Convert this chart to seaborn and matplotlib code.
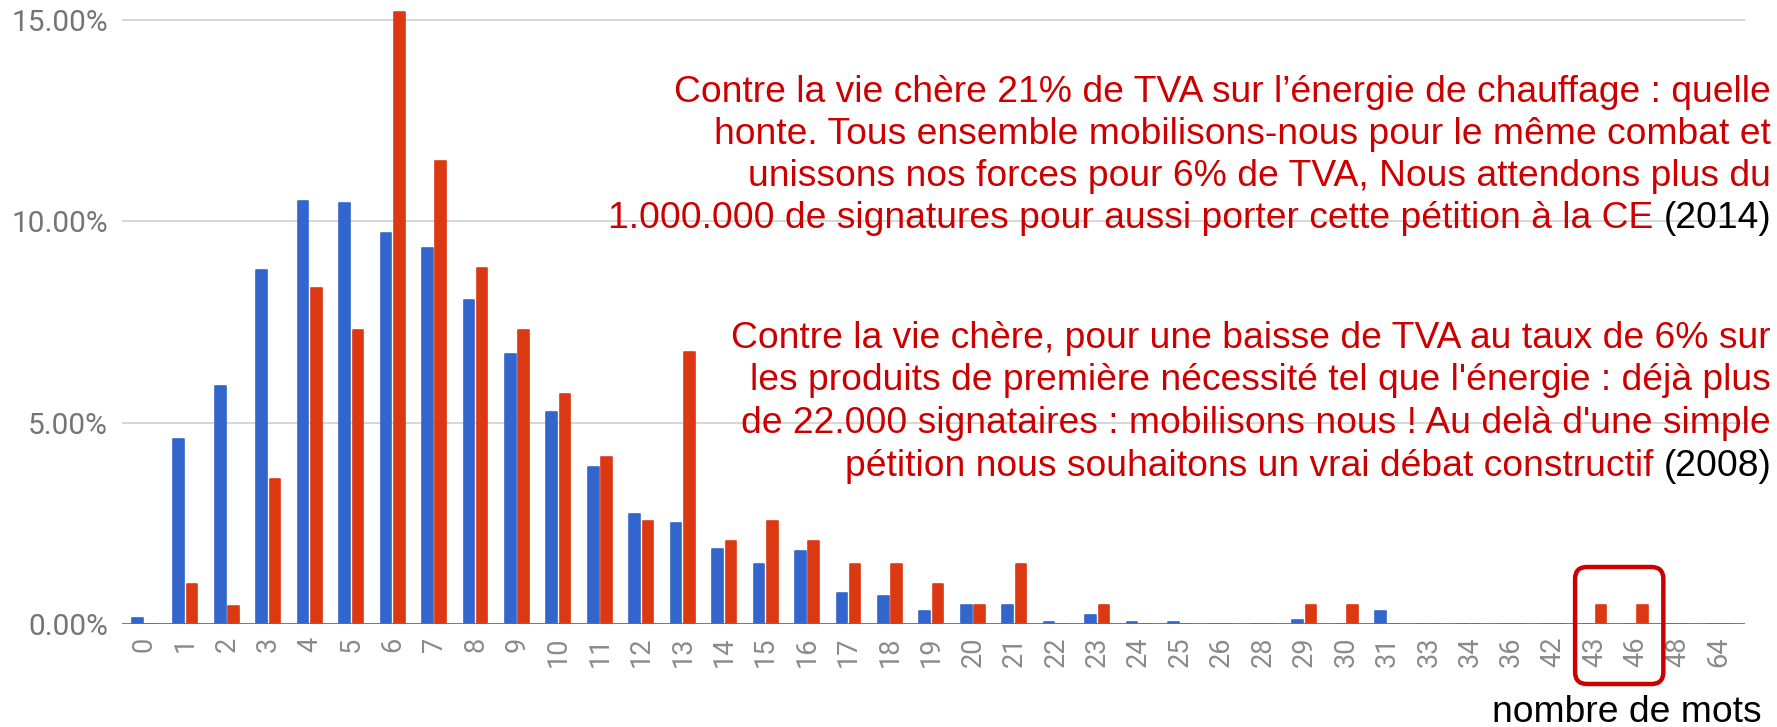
import numpy as np
import pandas as pd
import matplotlib
matplotlib.use("Agg")
import matplotlib.pyplot as plt
from matplotlib.patches import FancyBboxPatch
import seaborn as sns

# number of words per title (x categories)
mots = ["0", "1", "2", "3", "4", "5", "6", "7", "8", "9", "10", "11", "12", "13",
        "14", "15", "16", "17", "18", "19", "20", "21", "22", "23", "24", "25", "26",
        "28", "29", "30", "31", "33", "34", "36", "42", "43", "46", "48", "64"]

# share of petitions (%) - blue series
pct_bleu = [0.15, 4.6, 5.9, 8.8, 10.5, 10.45, 9.7, 9.35, 8.05, 6.7, 5.27, 3.9, 2.73,
            2.5, 1.87, 1.5, 1.82, 0.78, 0.7, 0.32, 0.46, 0.46, 0.06, 0.23, 0.06, 0.06,
            0.0, 0.0, 0.1, 0.0, 0.33, 0.0, 0.0, 0.0, 0.0, 0.0, 0.0, 0.0, 0.0]
# share of petitions (%) - red series
pct_rouge = [0.0, 1.0, 0.45, 3.6, 8.35, 7.3, 15.2, 11.5, 8.85, 7.3, 5.7, 4.15, 2.57,
             6.75, 2.06, 2.55, 2.06, 1.5, 1.5, 1.0, 0.46, 1.5, 0.0, 0.46, 0.0, 0.0,
             0.0, 0.0, 0.46, 0.46, 0.0, 0.0, 0.0, 0.0, 0.0, 0.46, 0.46, 0.0, 0.0]

serie_noms = ["bleu", "rouge"]
couleurs = ["#3366CC", "#DC3912"]
ytick_vals = [0, 5, 10, 15]

texte_2014 = ["Contre la vie chère 21% de TVA sur l’énergie de chauffage : quelle",
              "honte. Tous ensemble mobilisons-nous pour le même combat et",
              "unissons nos forces pour 6% de TVA, Nous attendons plus du",
              "1.000.000 de signatures pour aussi porter cette pétition à la CE"]
texte_2008 = ["Contre la vie chère, pour une baisse de TVA au taux de 6% sur",
              "les produits de première nécessité tel que l'énergie : déjà plus",
              "de 22.000 signataires : mobilisons nous ! Au delà d'une simple",
              "pétition nous souhaitons un vrai débat constructif"]

df = pd.DataFrame({
    "mots": mots * 2,
    "pct": pct_bleu + pct_rouge,
    "serie": [serie_noms[0]] * len(mots) + [serie_noms[1]] * len(mots),
})

sns.set_theme(style="white")
plt.rcParams["font.family"] = ["Roboto", "DejaVu Sans"]

W, H = 1777, 727
fig = plt.figure(figsize=(W / 100, H / 100), dpi=100)
ppu = (624 - 20) / 15.0
ymax = 15.3
ax = fig.add_axes([122 / W, 103 / H, (1745 - 122) / W, ymax * ppu / H])

sns.barplot(data=df, x="mots", y="pct", hue="serie", order=mots,
            palette=couleurs, width=0.64, gap=0.2, legend=False, ax=ax,
            saturation=1, linewidth=0)

# soften the bar corners a little, like the original chart
for p in ax.patches:
    p.set_edgecolor(p.get_facecolor())
    p.set_linewidth(1.2)
    p.set_joinstyle("round")

ax.set_ylim(0, ymax)
ax.set_xlim(-0.53, len(mots) - 1 + 0.63)
ax.set_yticks(ytick_vals)
ax.set_yticklabels([f"{v:.2f}%" for v in ytick_vals])
ax.yaxis.grid(True, color="#D0D0D0", linewidth=1.2)
ax.set_axisbelow(True)
for s in ["top", "right", "left", "bottom"]:
    ax.spines[s].set_visible(False)
ax.axhline(0, color="#707070", linewidth=2, zorder=5)
ax.set_xlabel("")
ax.set_ylabel("")
ax.tick_params(axis="y", length=0, pad=10, labelsize=21.5, labelcolor="#757575")
ax.tick_params(axis="x", length=0, pad=9, labelsize=19.5, labelcolor="#8A8A8A",
               rotation=90)

# annotation text blocks (right aligned)
rx = 1771 / W
tfont = dict(family=["Liberation Sans", "DejaVu Sans"], fontsize=26.8)


def bloc(lignes, ys, annee):
    for i, (ligne, yy) in enumerate(zip(lignes, ys)):
        yf = 1 - yy / H
        if i < len(lignes) - 1:
            fig.text(rx, yf, ligne, ha="right", va="center", color="#CC0000", **tfont)
        else:
            noir = fig.text(rx, yf, annee, ha="right", va="center", color="black", **tfont)
            ax.annotate(ligne, xy=(0, 0), xycoords=noir, xytext=(-7, 0),
                        textcoords="offset points", ha="right", va="bottom",
                        color="#CC0000", annotation_clip=False, **tfont)


bloc(texte_2014, [92, 134, 176, 218], "(2014)")
bloc(texte_2008, [339, 381, 423, 466], "(2008)")

fig.text(1762 / W, 1 - 712 / H, "nombre de mots", ha="right", va="center",
         color="black", **tfont)

# red rounded box around 43 and 46
i43, i46 = mots.index("43"), mots.index("46")
x0 = ax.transData.transform((i43 - 0.47, 0))[0]
x1 = ax.transData.transform((i46 + 0.66, 0))[0]
y_axe = ax.transData.transform((0, 0))[1]
boite = FancyBboxPatch((x0, y_axe - 60), x1 - x0, 117,
                       boxstyle="round,pad=0,rounding_size=12",
                       transform=None, fill=False, edgecolor="#CC0000",
                       linewidth=3.2, zorder=10)
fig.add_artist(boite)

fig.savefig("out.png", dpi=100, facecolor="white")
